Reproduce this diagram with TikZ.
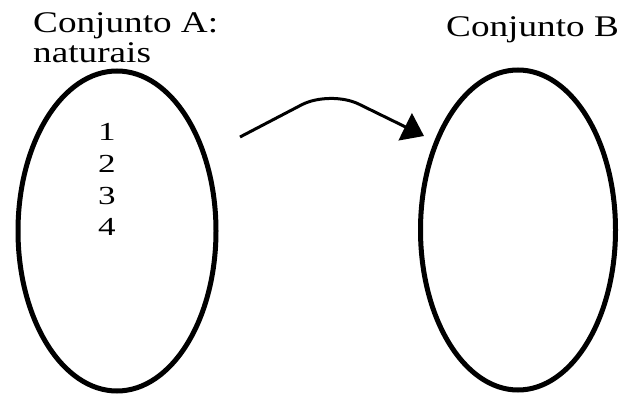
\documentclass[tikz,border=0pt]{standalone}
\usepackage{fontspec}
\setmainfont{Liberation Serif}
\usetikzlibrary{shapes.geometric,arrows.meta}
\begin{document}
\begin{tikzpicture}[x=1pt,y=-1pt,
  set/.style={ellipse,draw,line width=5pt,inner sep=0pt},
  lbl/.style={anchor=base west,inner sep=0pt,font=\fontsize{30}{30}\selectfont},
  num/.style={anchor=base west,inner sep=0pt,font=\fontsize{26}{26}\selectfont},
  arr/.style={line width=3pt,rounded corners=32pt,-{Triangle[length=21pt,width=30pt]}}]
\useasboundingbox (0,0) rectangle (621,396);
\node[set,minimum width=198pt,minimum height=320pt] (A) at (117,231) {};
\node[set,minimum width=195pt,minimum height=320pt] (B) at (518,230) {};
\node[lbl] (la1) at (33,33) {\scalebox{1.24}[1]{Conjunto A:}};
\node[lbl] (la2) at (33,63) {\scalebox{1.24}[1]{naturais}};
\node[lbl] (lb) at (446,37) {\scalebox{1.24}[1]{Conjunto B}};
\node[num] (n1) at (98,140) {\scalebox{1.35}[1]{1}};
\node[num] (n2) at (98,172) {\scalebox{1.35}[1]{2}};
\node[num] (n3) at (98,204) {\scalebox{1.35}[1]{3}};
\node[num] (n4) at (98,235) {\scalebox{1.35}[1]{4}};
\coordinate (s) at (240,137);
\coordinate (p) at (330,90);
\coordinate (t) at (424,136);
\draw[arr] (s) -- (p) -- (t);
\end{tikzpicture}
\end{document}
